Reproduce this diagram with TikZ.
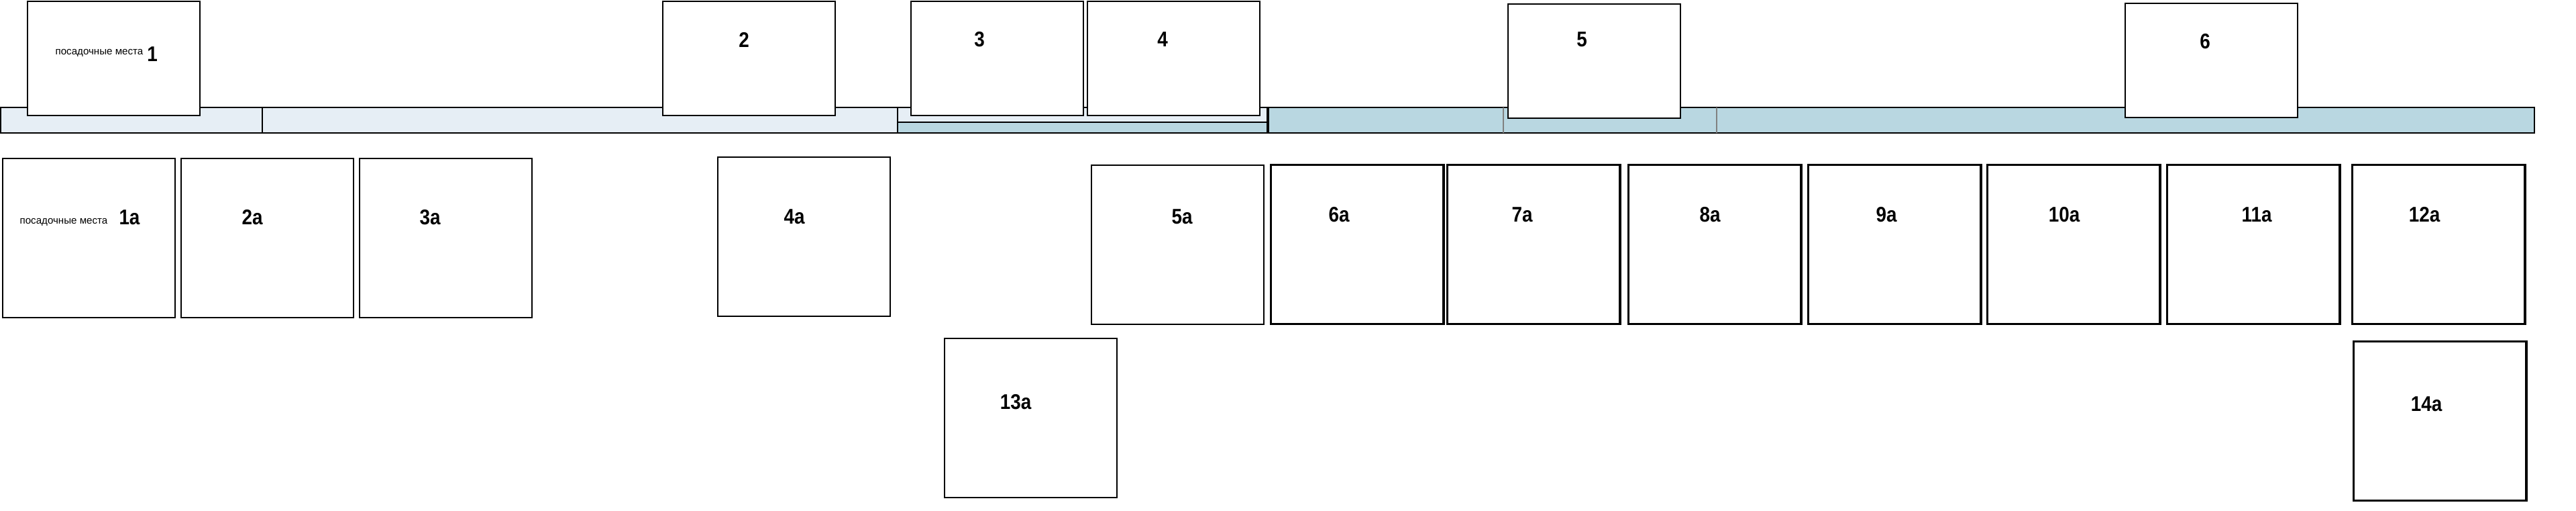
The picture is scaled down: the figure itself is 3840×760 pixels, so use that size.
\documentclass[tikz,border=0pt]{standalone}
\usepackage{fontspec}
\setmainfont{Liberation Sans}
\newfontfamily\numfont[FakeStretch=0.88]{Liberation Sans}
\definecolor{barlight}{HTML}{E6EEF5}
\definecolor{bardark}{HTML}{B9D7E1}
\begin{document}
\begin{tikzpicture}[x=0.01cm,y=-0.01cm,line width=0.6pt,
	num/.style={font=\numfont\fontsize{9}{10}\selectfont\bfseries,inner sep=0pt},
	note/.style={font=\fontsize{4.3}{5}\selectfont,inner sep=0pt},
	upper/.style={draw,fill=white,anchor=north west,minimum width=2.57cm,minimum height=1.7cm,inner sep=0pt},
	seat/.style={draw,fill=white,anchor=north west,minimum width=2.57cm,minimum height=2.37cm,inner sep=0pt},
	seatb/.style={seat,line width=0.95pt}]
	\useasboundingbox (0,0) rectangle (3840,760);
	% полоса
	\draw[fill=barlight] (1,160) rectangle (391,198);
	\draw[fill=barlight] (391,160) rectangle (1338,198);
	\draw[fill=barlight] (1338,160) rectangle (1889,182);
	\draw[fill=bardark] (1338,182) rectangle (1889,198);
	\draw[fill=bardark] (1891,160) rectangle (3778,198);
	\draw[gray,line width=0.8pt] (2241,160) -- (2241,198) (2559,160) -- (2559,198);
	% верхний ряд
	\node[upper] (s1) at (40,1) {};
	\node[note] at (148,79) {посадочные места};
	\node[num] at (227,81) {1};
	\node[upper] (s2) at (987,1) {};
	\node[num] at (1109,59) {2};
	\node[upper] (s3) at (1357,1) {};
	\node[num] at (1460,59) {3};
	\node[upper] (s4) at (1620,1) {};
	\node[num] at (1733,59) {4};
	\node[upper] (s5) at (2247,5) {};
	\node[num] at (2358,59) {5};
	\node[upper] (s6) at (3167,4) {};
	\node[num] at (3287,62) {6};
	% нижний ряд
	\node[seat] (s1a) at (3,235) {};
	\node[note] at (95,331) {посадочные места};
	\node[num] at (193,324) {1a};
	\node[seat] (s2a) at (269,235) {};
	\node[num] at (376,324) {2a};
	\node[seat] (s3a) at (535,235) {};
	\node[num] at (641,324) {3a};
	\node[seat] (s4a) at (1069,233) {};
	\node[num] at (1184,323) {4a};
	\node[seat] (s5a) at (1626,245) {};
	\node[num] at (1762,323) {5a};
	\foreach \x/\lx/\t in {1893/1996/6a,2156/2269/7a,2426/2549/8a,2694/2812/9a,2961/3077/10a,3229/3364/11a,3505/3614/12a}
	{
		\node[seatb] (s\t) at (\x,244) {};
		\node[num] at (\lx,320) {\t};
	}
	\node[seat] (s13a) at (1407,503) {};
	\node[num] at (1514,599) {13a};
	\node[seatb] (s14a) at (3507,507) {};
	\node[num] at (3617,602) {14a};
\end{tikzpicture}
\end{document}
